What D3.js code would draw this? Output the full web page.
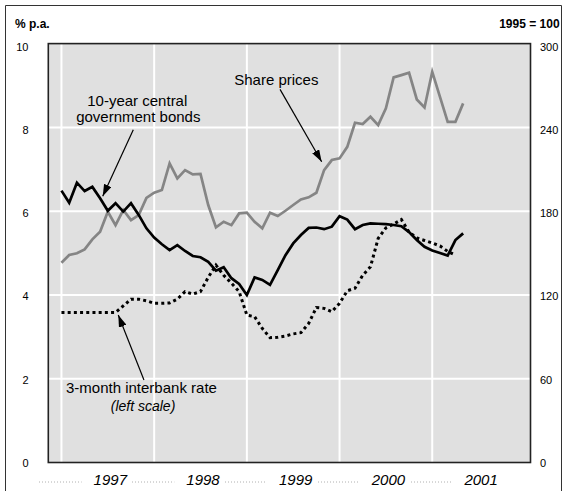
<!DOCTYPE html>
<html><head><meta charset="utf-8">
<script src="https://cdn.jsdelivr.net/npm/d3@7"></script>
<style>
body{margin:0;background:#fff}
svg{display:block}
text{font-family:"Liberation Sans",Arial,Helvetica,sans-serif;fill:#000}
</style>
</head><body>
<script>
// ---- data (monthly, starting January 1997) ----
const startYear = 1997;
const bondYield = [
  6.49, 6.20, 6.68, 6.48, 6.58, 6.31, 6.01, 6.19, 5.99, 6.19, 5.91, 5.59,
  5.37, 5.21, 5.07, 5.19, 5.05, 4.93, 4.90, 4.79, 4.58, 4.66, 4.40, 4.26,
  4.00, 4.42, 4.36, 4.24, 4.59, 4.95, 5.23, 5.43, 5.60, 5.61, 5.57, 5.63,
  5.88, 5.80, 5.57, 5.67, 5.71, 5.70, 5.69, 5.67, 5.64, 5.50, 5.31, 5.15,
  5.06, 5.00, 4.94, 5.31, 5.47
];
const sharePrices = [
  143.1, 148.6, 149.8, 152.6, 159.8, 165.3, 179.6, 170.0, 180.8, 173.6, 177.2, 189.5,
  193.2, 195.1, 214.2, 203.5, 209.4, 206.3, 206.6, 184.4, 168.4, 172.4, 170.0, 178.4,
  178.9, 172.4, 167.7, 178.9, 176.5, 180.3, 184.4, 188.4, 189.9, 193.2, 209.4, 216.6,
  217.8, 226.1, 243.3, 242.4, 247.6, 241.6, 253.6, 275.8, 277.4, 279.1, 260.0, 254.3,
  279.8, 261.9, 244.0, 244.0, 257.2
];
const interbankRate = [
  3.58, 3.58, 3.58, 3.58, 3.58, 3.58, 3.58, 3.58, 3.74, 3.90, 3.90, 3.86,
  3.80, 3.80, 3.81, 3.90, 4.08, 4.02, 4.08, 4.42, 4.71, 4.47, 4.28, 4.08,
  3.52, 3.48, 3.20, 2.98, 2.99, 3.02, 3.07, 3.10, 3.32, 3.70, 3.68, 3.60,
  3.80, 4.10, 4.16, 4.47, 4.67, 5.35, 5.60, 5.69, 5.80, 5.50, 5.36, 5.30,
  5.24, 5.17, 5.04, 4.95
];
const leftTicks = [0, 2, 4, 6, 8, 10];
const rightTicks = [0, 60, 120, 180, 240, 300];
const gridValues = [2, 4, 6, 8];
const yearLabels = [1997, 1998, 1999, 2000, 2001];

// ---- layout ----
const W = 567, H = 491;
const P = {left: 48.3, right: 530.5, top: 43.6, bottom: 462.5};
const svg = d3.select("body").append("svg").attr("width", W).attr("height", H);

const x = d3.scaleLinear().domain([1996.858, 2002.06]).range([P.left, P.right]);
const yL = d3.scaleLinear().domain([0, 10]).range([P.bottom, P.top]);
const yR = d3.scaleLinear().domain([0, 300]).range([P.bottom, P.top]);
// tick-label placement (labels sit very slightly lower than gridlines near the top)
const yLab = d3.scaleLinear().domain([0, 10]).range([463, 46.7]);
const t = i => startYear + i / 12;

// outer frame
svg.append("path").attr("d", `M5.5,${H} V5.5 H561.5 V${H}`)
  .attr("fill", "none").attr("stroke", "#333").attr("stroke-width", 1);

// plot background
svg.append("rect").attr("x", P.left).attr("y", P.top)
  .attr("width", P.right - P.left).attr("height", P.bottom - P.top)
  .attr("fill", "#e0e0e0");

// gridlines
svg.append("g").selectAll("line").data(yearLabels).join("line")
  .attr("x1", d => x(d)).attr("x2", d => x(d))
  .attr("y1", P.top).attr("y2", P.bottom)
  .attr("stroke", "#fff").attr("stroke-width", 2);
svg.append("g").selectAll("line").data(gridValues).join("line")
  .attr("x1", P.left).attr("x2", P.right)
  .attr("y1", d => yL(d)).attr("y2", d => yL(d))
  .attr("stroke", "#fff").attr("stroke-width", 2);

// series
const lineL = d3.line().x((d, i) => x(t(i))).y(d => yL(d));
const lineR = d3.line().x((d, i) => x(t(i))).y(d => yR(d));

svg.append("path").datum(sharePrices).attr("d", lineR)
  .attr("fill", "none").attr("stroke", "#858585").attr("stroke-width", 2.7)
  .attr("stroke-linejoin", "miter");
svg.append("path").datum(interbankRate).attr("d", lineL)
  .attr("fill", "none").attr("stroke", "#000").attr("stroke-width", 3)
  .attr("stroke-dasharray", "3,3.2");
svg.append("path").datum(bondYield).attr("d", lineL)
  .attr("fill", "none").attr("stroke", "#000").attr("stroke-width", 2.7)
  .attr("stroke-linejoin", "miter");

// plot border
svg.append("rect").attr("x", P.left).attr("y", P.top)
  .attr("width", P.right - P.left).attr("height", P.bottom - P.top)
  .attr("fill", "none").attr("stroke", "#222").attr("stroke-width", 1.6);

// axis tick labels
svg.append("g").selectAll("text").data(leftTicks).join("text")
  .attr("x", 28.5).attr("y", d => yLab(d)).attr("dy", "0.36em")
  .attr("text-anchor", "end").attr("font-size", 11).text(d => d);
svg.append("g").selectAll("text").data(rightTicks).join("text")
  .attr("x", 540).attr("y", d => yLab(d / 30)).attr("dy", "0.36em")
  .attr("text-anchor", "start").attr("font-size", 11).text(d => d);

svg.append("text").attr("x", 15).attr("y", 27.5).attr("font-size", 12)
  .attr("font-weight", "bold").text("% p.a.");
svg.append("text").attr("x", 559.6).attr("y", 27.5).attr("font-size", 12)
  .attr("font-weight", "bold").attr("text-anchor", "end").text("1995 = 100");

// dotted leader under the year labels
svg.append("line").attr("x1", 39).attr("x2", 454).attr("y1", 482).attr("y2", 482)
  .attr("stroke", "#b0b0b0").attr("stroke-width", 1).attr("stroke-dasharray", "1,2");
const yearG = svg.append("g");
const yearTexts = yearG.selectAll("text").data(yearLabels).join("text")
  .attr("x", d => x(d + 0.5) + 2.5).attr("y", 484.5)
  .attr("text-anchor", "middle").attr("font-size", 15).attr("font-style", "italic")
  .text(d => d);
yearTexts.each(function() {
  const b = this.getBBox();
  yearG.insert("rect", "text").attr("x", b.x - 12).attr("y", 478)
    .attr("width", b.width + 16).attr("height", 8).attr("fill", "#fff");
});

// annotations (positions in data units: decimal year, left-scale value)
const defs = svg.append("defs");
defs.append("marker").attr("id", "ah").attr("markerUnits", "userSpaceOnUse")
  .attr("viewBox", "0 0 12 8").attr("refX", 12).attr("refY", 4)
  .attr("markerWidth", 12).attr("markerHeight", 8).attr("orient", "auto")
  .append("path").attr("d", "M0,0 L12,4 L0,8 Z").attr("fill", "#000");

const arrows = [
  {from: [1999.358, 8.907], to: [1999.807, 7.179]},
  {from: [1997.775, 7.943], to: [1997.445, 6.353]},
  {from: [1997.890, 1.969], to: [1997.613, 3.520]}
];
svg.append("g").selectAll("line").data(arrows).join("line")
  .attr("x1", d => x(d.from[0])).attr("y1", d => yL(d.from[1]))
  .attr("x2", d => x(d.to[0])).attr("y2", d => yL(d.to[1]))
  .attr("stroke", "#000").attr("stroke-width", 1.2).attr("marker-end", "url(#ah)");

const notes = [
  {text: "Share prices", at: [1999.318, 9.01], italic: false, size: 15},
  {text: "10-year central", at: [1997.818, 8.50], italic: false, size: 15},
  {text: "government bonds", at: [1997.829, 8.12], italic: false, size: 15},
  {text: "3-month interbank rate", at: [1997.863, 1.652], italic: false, size: 15},
  {text: "(left scale)", at: [1997.880, 1.236], italic: true, size: 14}
];
svg.append("g").selectAll("text").data(notes).join("text")
  .attr("x", d => x(d.at[0])).attr("y", d => yL(d.at[1]))
  .attr("text-anchor", "middle").attr("font-size", d => d.size)
  .attr("font-style", d => d.italic ? "italic" : "normal")
  .text(d => d.text);
</script>
</body></html>
